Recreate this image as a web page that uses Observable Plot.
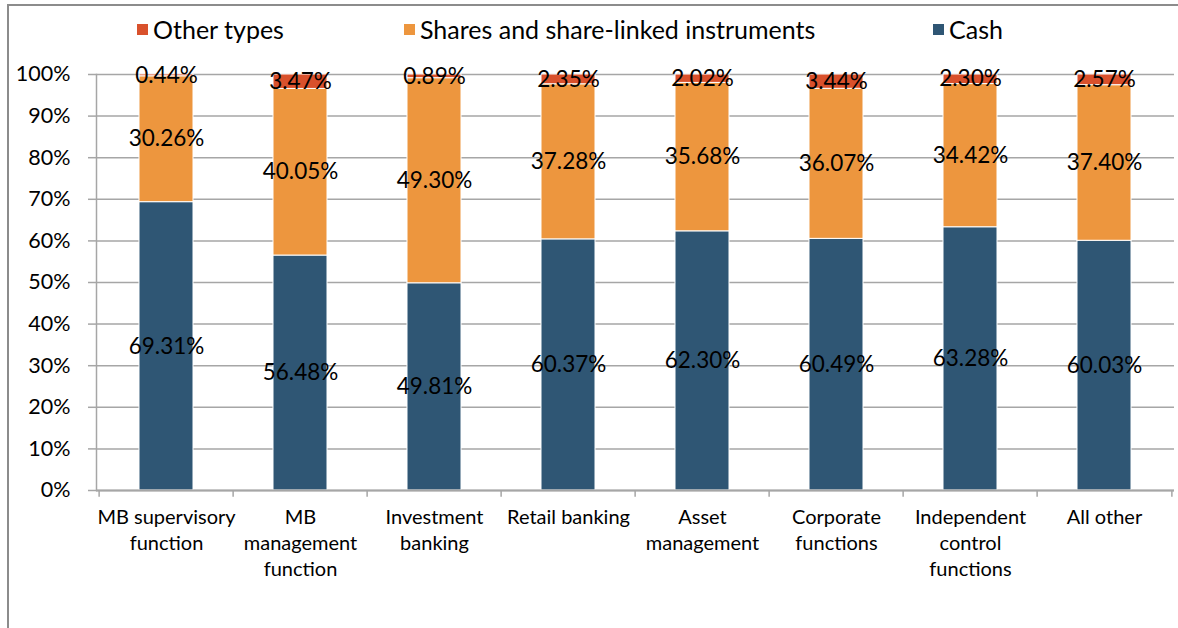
<!DOCTYPE html>
<html>
<head>
<meta charset="utf-8">
<script src="https://cdn.jsdelivr.net/npm/d3@7"></script>
<script src="https://cdn.jsdelivr.net/npm/@observablehq/plot@0.6"></script>
<style>
  html, body { margin: 0; padding: 0; background: #fff; }
  #wrap { position: relative; width: 1178px; height: 628px; overflow: hidden; font-family: Lato, "Open Sans", sans-serif; }
  #frame { position: absolute; left: 7px; top: 4px; right: -5px; bottom: -5px; border-left: 2px solid #8c8c8c; border-top: 2px solid #8c8c8c; pointer-events: none; }
  .leg { position: absolute; top: 14px; font-size: 25px; color: #000; display: flex; align-items: center; white-space: nowrap; }
  .leg i { display: inline-block; width: 11px; height: 11px; margin-right: 5px; }
  #chart { position: absolute; left: 0; top: 0; }
</style>
</head>
<body>
<div id="wrap">
  <div id="chart"></div>
  <div id="frame"></div>
  <div id="legend"></div>
</div>
<script>
const categories = [
  "MB supervisory function",
  "MB management function",
  "Investment banking",
  "Retail banking",
  "Asset management",
  "Corporate functions",
  "Independent control functions",
  "All other"
];
const categoryLabels = [
  "MB supervisory\nfunction",
  "MB\nmanagement\nfunction",
  "Investment\nbanking",
  "Retail banking",
  "Asset\nmanagement",
  "Corporate\nfunctions",
  "Independent\ncontrol\nfunctions",
  "All other"
];
const cash   = [69.31, 56.48, 49.81, 60.37, 62.30, 60.49, 63.28, 60.03];
const shares = [30.26, 40.05, 49.30, 37.28, 35.68, 36.07, 34.42, 37.40];
const other  = [0.44, 3.47, 0.89, 2.35, 2.02, 3.44, 2.30, 2.57];
const seriesNames = ["Cash", "Shares and share-linked instruments", "Other types"];
const seriesColors = ["#2f5674", "#ed963e", "#d9512c"];
const legendOrder = ["Other types", "Shares and share-linked instruments", "Cash"];
const yTicks = [0, 10, 20, 30, 40, 50, 60, 70, 80, 90, 100];

const seriesValues = [cash, shares, other];
const data = categories.flatMap((c, i) =>
  seriesNames.map((s, k) => ({category: c, series: s, value: seriesValues[k][i]}))
);

const W = 1178, H = 628;
const mL = 96, mR = 4, mT = 74, mB = 138;
const step = (W - mL - mR) / categories.length;
const labelOf = new Map(categories.map((c, i) => [c, categoryLabels[i]]));
const gridColor = "#a6a6a6";

const chart = Plot.plot({
  width: W,
  height: H,
  marginLeft: mL,
  marginRight: mR,
  marginTop: mT,
  marginBottom: mB,
  style: {fontFamily: "Lato, 'Open Sans', sans-serif", background: "transparent", color: "#000"},
  x: {type: "band", domain: categories, paddingInner: 0.6, paddingOuter: 0.3},
  y: {domain: [0, 100]},
  color: {domain: seriesNames, range: seriesColors},
  marks: [
    Plot.gridY(yTicks, {stroke: gridColor, strokeOpacity: 1, strokeWidth: 1.5}),
    Plot.axisY(yTicks, {tickFormat: d => d + "%", tickSize: 8, tickPadding: 18, fontSize: 21.5, stroke: gridColor, strokeWidth: 1.5, label: null}),
    Plot.barY(data, Plot.stackY({x: "category", y: "value", fill: "series", order: seriesNames, stroke: "#fff", strokeWidth: 1})),
    Plot.ruleY([0], {stroke: gridColor, strokeWidth: 2}),
    Plot.frame({anchor: "left", stroke: gridColor, strokeWidth: 1.5}),
    Plot.ruleX(categories, {x: d => d, y1: 0, y2: -1.6, dx: -step / 2, stroke: gridColor, strokeWidth: 1.5}),
    Plot.ruleX(categories.slice(-1), {x: d => d, y1: 0, y2: -1.6, dx: step / 2, stroke: gridColor, strokeWidth: 1.5}),
    Plot.text(data, Plot.stackY({x: "category", y: "value", z: "series", order: seriesNames, text: d => d.value.toFixed(2) + "%", fontSize: 22.5, fill: "#000"})),
    Plot.axisX({tickSize: 0, tickPadding: 15, fontSize: 20, lineHeight: 1.3, tickFormat: d => labelOf.get(d), label: null})
  ]
});
document.getElementById("chart").appendChild(chart);

const legendX = {"Other types": 137, "Shares and share-linked instruments": 404, "Cash": 933};
const leg = document.getElementById("legend");
legendOrder.forEach(name => {
  const d = document.createElement("div");
  d.className = "leg";
  d.style.left = legendX[name] + "px";
  const sw = document.createElement("i");
  sw.style.background = seriesColors[seriesNames.indexOf(name)];
  d.appendChild(sw);
  d.appendChild(document.createTextNode(name));
  leg.appendChild(d);
});
</script>
</body>
</html>
